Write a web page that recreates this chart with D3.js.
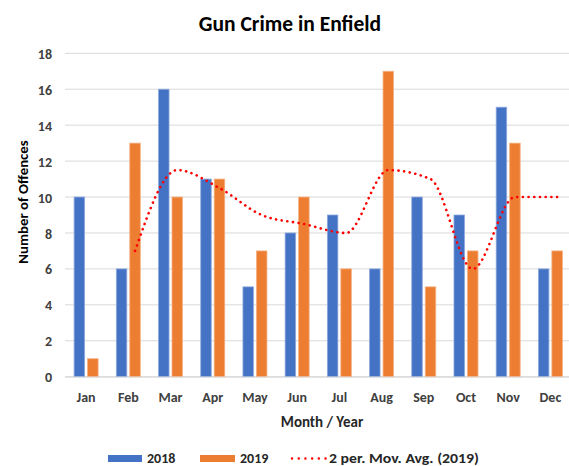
<!DOCTYPE html>
<html><head><meta charset="utf-8">
<script src="https://cdn.jsdelivr.net/npm/d3@7"></script>
<style>body{margin:0;background:#fff}svg{display:block}</style>
</head><body>
<svg id="c" width="569" height="466"></svg>
<script>
const months = ["Jan","Feb","Mar","Apr","May","Jun","Jul","Aug","Sep","Oct","Nov","Dec"];
const series2018 = [10,6,16,11,5,8,9,6,10,9,15,6];
const series2019 = [1,13,10,11,7,10,6,17,5,7,13,7];
const movAvg2019 = [null,7,11.5,10.5,9,8.5,8,11.5,11,6,10,10];
const yTicks = [0,2,4,6,8,10,12,14,16,18];
const seriesNames = ["2018","2019","2 per. Mov. Avg. (2019)"];
const colors = {s2018:"#4472C4", s2019:"#ED7D31", avg:"#FF0000", grid:"#D9D9D9"};

const font = "Carlito, Calibri, Lato, 'Open Sans', sans-serif";
const svg = d3.select("#c");
const pLeft = 65, pRight = 571.5, pTop = 53.3, pBottom = 376.7;

const x = d3.scaleBand().domain(months).range([pLeft, pRight]).paddingInner(0).paddingOuter(0);
const sub = d3.scaleBand().domain(["2018","2019"]).range([0, 24]).paddingInner(0.22).paddingOuter(0);
const y = d3.scaleLinear().domain([0,18]).range([pBottom, pTop]);
const off = (x.bandwidth() - 24)/2;

// gridlines
svg.append("g").selectAll("line").data(yTicks).join("line")
  .attr("x1", pLeft).attr("x2", pRight)
  .attr("y1", d=>y(d)).attr("y2", d=>y(d))
  .attr("stroke", colors.grid).attr("stroke-width", 1);

// y tick labels
const yAxis = d3.axisLeft(y).tickValues(yTicks).tickSize(0).tickPadding(0);
const ya = svg.append("g").attr("transform", `translate(52,0)`).call(yAxis);
ya.select(".domain").remove();
ya.selectAll("text").attr("font-family", font).attr("font-weight","bold")
  .attr("font-size", 14).attr("fill","#404040").attr("dy","0.36em");

// bars
const data = months.map((m,i)=>({m, a:series2018[i], b:series2019[i]}));
const g = svg.append("g");
g.selectAll(".b18").data(data).join("rect")
  .attr("x", d=>x(d.m)+off+sub("2018")).attr("width", sub.bandwidth())
  .attr("y", d=>y(d.a)).attr("height", d=>y(0)-y(d.a))
  .attr("fill", colors.s2018).attr("stroke","#8FAADC").attr("stroke-width",0.8);
g.selectAll(".b19").data(data).join("rect")
  .attr("x", d=>x(d.m)+off+sub("2019")).attr("width", sub.bandwidth())
  .attr("y", d=>y(d.b)).attr("height", d=>y(0)-y(d.b))
  .attr("fill", colors.s2019).attr("stroke","#F4B183").attr("stroke-width",0.8);

// x axis
const xAxis = d3.axisBottom(x).tickSize(0).tickPadding(0);
const xa = svg.append("g").attr("transform", `translate(0,${pBottom})`).call(xAxis);
xa.select(".domain").attr("stroke", colors.grid);
xa.selectAll("text").attr("dy", "25px").attr("font-family", font).attr("font-weight","bold")
  .attr("font-size", 14).attr("fill","#404040");

// moving average
const avgPts = months.map((m,i)=>({m, v:movAvg2019[i]})).filter(d=>d.v!=null);
const line = d3.line().x(d=>x(d.m)+off+sub("2019")+sub.bandwidth()/2).y(d=>y(d.v))
  .curve(d3.curveMonotoneX);
svg.append("path").datum(avgPts).attr("d", line).attr("fill","none")
  .attr("stroke", colors.avg).attr("stroke-width", 2.6)
  .attr("stroke-linecap","round").attr("stroke-dasharray","0.1 5.6");

// title
svg.append("text").attr("x", 290).attr("y", 31).attr("text-anchor","middle")
  .attr("font-family", font).attr("font-weight","bold").attr("font-size", 21.5)
  .attr("fill","#000").text("Gun Crime in Enfield");

// axis titles
svg.append("text").attr("transform","translate(28,202) rotate(-90)").attr("text-anchor","middle")
  .attr("font-family", font).attr("font-weight","600").attr("font-size", 14.8)
  .attr("fill","#000").text("Number of Offences");
svg.append("text").attr("x", 322).attr("y", 427).attr("text-anchor","middle")
  .attr("font-family", font).attr("font-weight","bold").attr("font-size", 15)
  .attr("fill","#262626").text("Month / Year");

// legend
const lg = svg.append("g").attr("font-family", font).attr("font-weight","bold").attr("font-size", 14).attr("fill","#262626");
lg.append("rect").attr("x",108).attr("y",455).attr("width",34).attr("height",7).attr("fill",colors.s2018);
lg.append("text").attr("x",147).attr("y",462.5).text(seriesNames[0]);
lg.append("rect").attr("x",200).attr("y",455).attr("width",35).attr("height",7).attr("fill",colors.s2019);
lg.append("text").attr("x",240).attr("y",462.5).text(seriesNames[1]);
lg.append("line").attr("x1",292).attr("x2",326).attr("y1",458.5).attr("y2",458.5)
  .attr("stroke",colors.avg).attr("stroke-width",2.4).attr("stroke-linecap","round").attr("stroke-dasharray","0.1 6.6");
lg.append("text").attr("x",329).attr("y",462.5).attr("textLength",150).attr("lengthAdjust","spacingAndGlyphs").text(seriesNames[2]);
</script>
</body></html>
